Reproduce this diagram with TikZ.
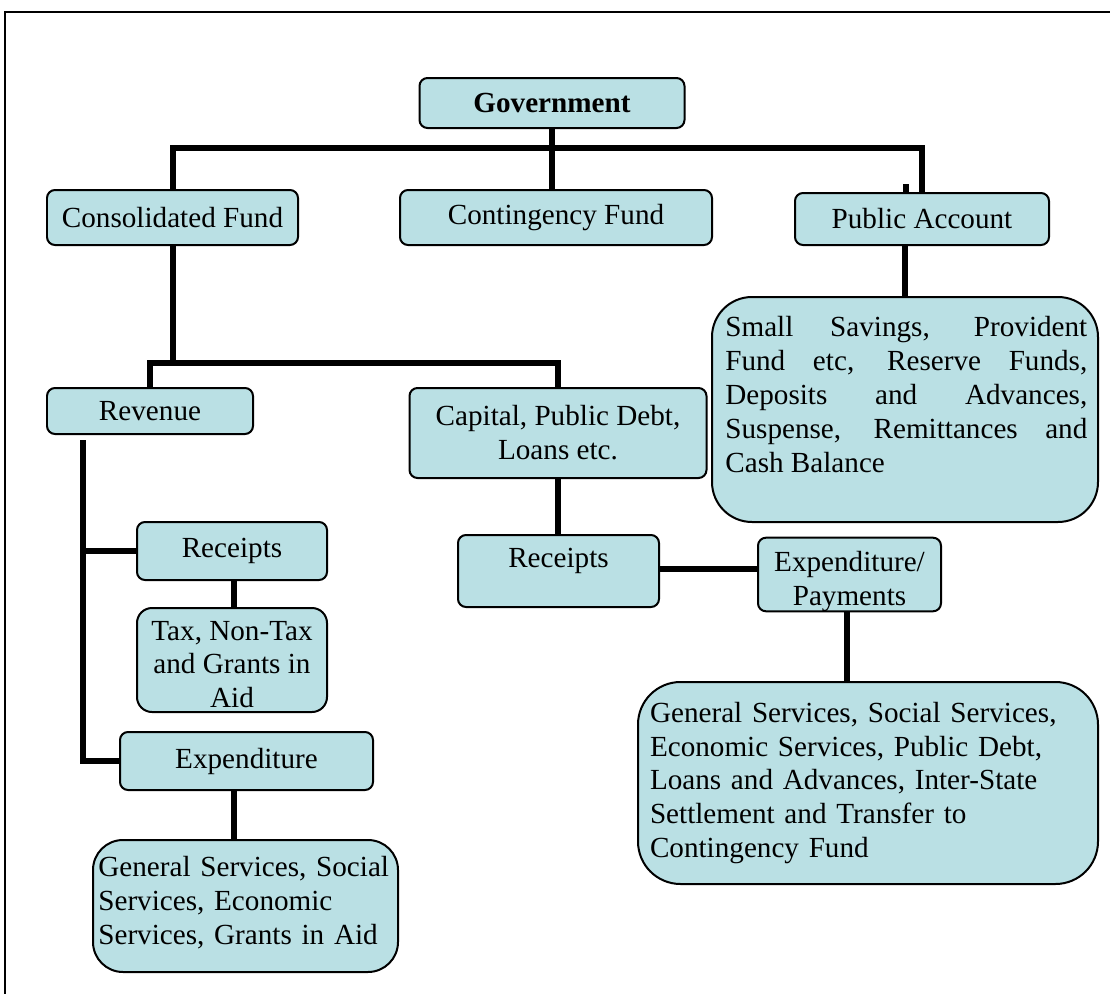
\documentclass[tikz,border=0pt]{standalone}
\usepackage{fontspec}
\setmainfont{Liberation Serif}
\usepackage{tikz}
\usetikzlibrary{calc}

\definecolor{boxcyan}{RGB}{186,224,228}
\newcommand{\boxfont}{\fontsize{16.6}{19.3}\selectfont}

\tikzset{
    box/.style={draw, fill=boxcyan, line width=0.04cm, rounded corners=0.16cm,
        font=\boxfont, inner sep=0pt, align=center},
    boxtext/.style={anchor=north west, inner sep=0pt, font=\boxfont},
    link/.style={line width=0.12cm}
}

\begin{document}
\begin{tikzpicture}[x=0.02cm,y=-0.02cm]
    % Define size of one pixel
    \def\pxu{0.02cm}

    \useasboundingbox (0,0) rectangle (1110,994);

    % Draw frame
    \draw[line width=0.05cm] (5,994) -- (5,12) -- (1110,12);

    % Draw top level
    \node[box, minimum width=265*\pxu, minimum height=50*\pxu, font=\boxfont\bfseries] (gov) at (552,103) {Government};
    \node[box, minimum width=251*\pxu, minimum height=55*\pxu] (cons) at (172.5,217.5) {Consolidated Fund};
    \node[box, minimum width=312*\pxu, minimum height=55*\pxu] (cont) at (556,217.5) {Contingency Fund};
    \node[box, minimum width=254*\pxu, minimum height=52*\pxu] (pub) at (922,219) {Public Account};

    % Draw public account contents
    \node[box, rounded corners=0.8cm, minimum width=386*\pxu, minimum height=225*\pxu] (sav) at (905,409.5) {};
    \node[boxtext, text width=362*\pxu, align=justify] (savtext) at (725,316)
        {Small Savings, Provident\linebreak Fund etc, Reserve Funds,\linebreak Deposits and Advances,\linebreak Suspense, Remittances and\linebreak Cash Balance};

    % Draw consolidated fund branches
    \node[box, minimum width=206*\pxu, minimum height=46*\pxu] (rev) at (150,411) {Revenue};
    \node[box, minimum width=297*\pxu, minimum height=90*\pxu] (cap) at (558,433) {Capital, Public Debt,\\Loans etc.};

    % Draw revenue side
    \node[box, minimum width=190*\pxu, minimum height=58*\pxu] (rrec) at (232,551) {Receipts};
    \node[box, rounded corners=0.3cm, minimum width=190*\pxu, minimum height=104*\pxu] (tax) at (232,660)
        {\rule{0pt}{16pt}Tax, Non-Tax\\and Grants in\\Aid};
    \node[box, minimum width=253*\pxu, minimum height=58*\pxu] (rexp) at (246.5,761) {Expenditure};
    \node[box, rounded corners=0.6cm, minimum width=305*\pxu, minimum height=132*\pxu] (rgen) at (245.5,906) {};
    \node[boxtext, text width=298*\pxu, align=left] (rgentext) at (98,856)
        {General Services, Social\\Services, Economic\\Services, Grants in Aid};

    % Draw capital side
    \node[box, minimum width=201*\pxu, minimum height=72*\pxu, text depth=15pt] (crec) at (558.5,571) {Receipts};
    \node[box, minimum width=183*\pxu, minimum height=73*\pxu] (cexp) at (849.5,574.5) {\rule{0pt}{19pt}Expenditure/\\Payments};
    \node[box, rounded corners=0.85cm, text width=436*\pxu, inner xsep=12*\pxu, minimum height=202*\pxu, align=left] (cgen) at (868,783)
        {General Services, Social Services,\\Economic Services, Public Debt,\\Loans and Advances, Inter-State\\Settlement and Transfer to\\Contingency Fund};

    % Draw top bus
    \coordinate (topbus) at (553,148);
    \coordinate (stub) at (906,184);
    \draw[link] (cons.north) |- (topbus) -| (pub.north);
    \draw[link] (gov.south) -- (gov.south |- cont.north);
    \draw[link] (stub) -- (stub |- pub.north);
    \draw[link] (sav.north) -- (sav.north |- pub.south);

    % Draw middle bus
    \coordinate (midbus) at (173,363);
    \draw[link] (cons.south) -- (cons.south |- midbus);
    \draw[link] (rev.north) |- (midbus) -| (cap.north);

    % Draw revenue links
    \coordinate (revtop) at (83,440);
    \draw[link] (revtop) |- (rexp.west);
    \draw[link] (revtop |- rrec.west) -- (rrec.west);
    \draw[link] (rrec.south -| 234,0) -- (tax.north -| 234,0);
    \draw[link] (rexp.south -| 234,0) -- (rgen.north -| 234,0);

    % Draw capital links
    \draw[link] (cap.south) -- (cap.south |- crec.north);
    \draw[link] (crec.east |- 0,569) -- (cexp.west |- 0,569);
    \draw[link] (cexp.south -| 847,0) -- (cgen.north -| 847,0);
\end{tikzpicture}
\end{document}
